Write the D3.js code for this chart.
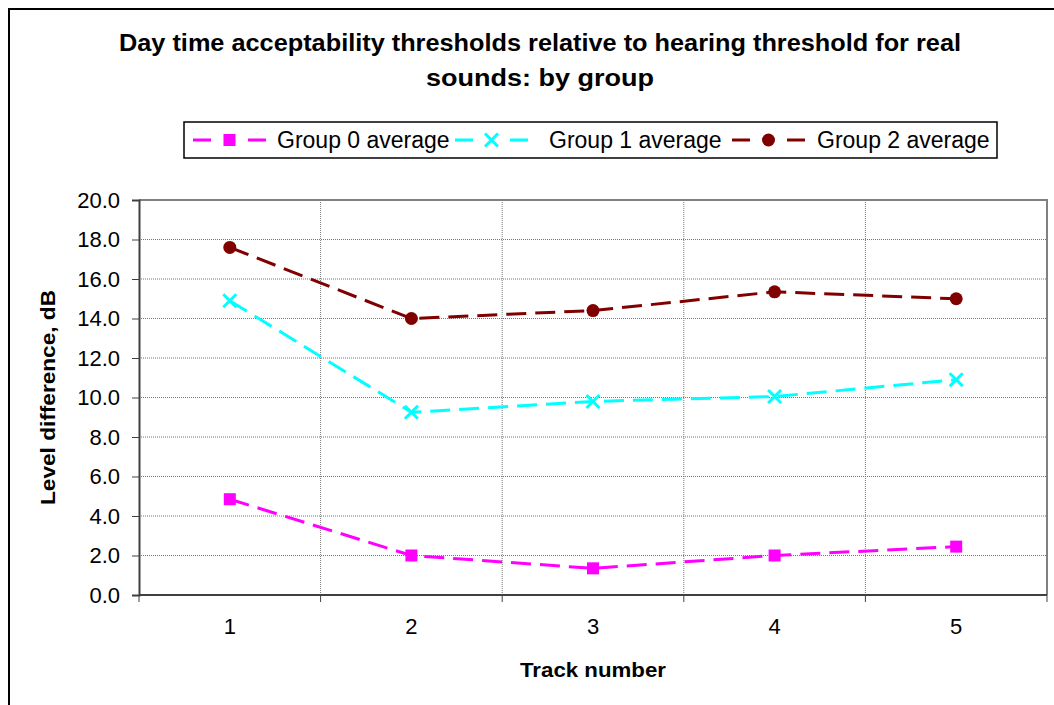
<!DOCTYPE html>
<html><head><meta charset="utf-8">
<script src="https://cdn.jsdelivr.net/npm/d3@7"></script>
<style>body{margin:0;background:#fff;}svg{display:block;font-family:"Liberation Sans",Arial,sans-serif;}</style>
</head><body><svg id="c" width="1054" height="705"></svg>
<script>
const tracks = [1, 2, 3, 4, 5];
const group0 = [4.85, 2.0, 1.35, 2.0, 2.45];
const group1 = [14.9, 9.25, 9.8, 10.05, 10.9];
const group2 = [17.6, 14.0, 14.4, 15.35, 15.0];
const seriesNames = ["Group 0 average", "Group 1 average", "Group 2 average"];
const yTicks = [0, 2, 4, 6, 8, 10, 12, 14, 16, 18, 20];
const titleLines = ["Day time acceptability thresholds relative to hearing threshold for real", "sounds: by group"];

const series = [
  {name: seriesNames[0], values: group0, color: "#ff00ff", marker: "square"},
  {name: seriesNames[1], values: group1, color: "#00ffff", marker: "x"},
  {name: seriesNames[2], values: group2, color: "#800000", marker: "circle"}
];

const svg = d3.select("#c");
// outer border (cut off at right/bottom)
svg.append("path").attr("d","M9,710 L9,9 L1060,9").attr("fill","none").attr("stroke","#000").attr("stroke-width",2);

const L = 139, R = 1047, T = 200, B = 595;
const x = d3.scaleBand().domain(tracks).range([L, R]);
const y = d3.scaleLinear().domain([0, 20]).range([B, T]);

// title
const titleW = [842, 228];
svg.append("g").selectAll("text").data(titleLines).join("text")
  .attr("x", 540).attr("y", (d,i)=>51 + i*35).attr("text-anchor","middle")
  .attr("font-size", 23).attr("font-weight","bold")
  .attr("textLength", (d,i)=>titleW[i]).attr("lengthAdjust","spacingAndGlyphs").text(d=>d);

// gridlines horizontal
svg.append("g").selectAll("line").data(yTicks.slice(1, -1)).join("line")
  .attr("x1", L).attr("x2", R).attr("y1", d=>y(d)).attr("y2", d=>y(d))
  .attr("stroke","#777").attr("stroke-width",1).attr("stroke-dasharray","1,1");
// vertical gridlines at category boundaries
svg.append("g").selectAll("line").data(tracks.slice(1)).join("line")
  .attr("x1", d=>x(d)).attr("x2", d=>x(d)).attr("y1", T).attr("y2", B)
  .attr("stroke","#777").attr("stroke-width",1).attr("stroke-dasharray","1,1");

// plot border (top/right gray)
svg.append("path").attr("d",`M${L},${T} L${R},${T} L${R},${B}`).attr("fill","none").attr("stroke","#808080").attr("stroke-width",2);

// y axis
const yAxis = d3.axisLeft(y).tickValues(yTicks).tickFormat(d3.format(".1f")).tickSize(7).tickPadding(12);
const gy = svg.append("g").attr("transform",`translate(${L},0)`).call(yAxis);
gy.select(".domain").attr("stroke","#404040").attr("stroke-width",2);
gy.selectAll(".tick line").attr("stroke","#404040");
gy.selectAll("text").attr("font-size",22).attr("fill","#000").attr("font-family","Liberation Sans, Arial, sans-serif");

// x axis: labels centered, ticks at boundaries
const xAxis = d3.axisBottom(x).tickSize(0).tickPadding(23);
const gx = svg.append("g").attr("transform",`translate(0,${B})`).call(xAxis);
gx.select(".domain").remove();
gx.selectAll("text").attr("font-size",22).attr("fill","#000").attr("font-family","Liberation Sans, Arial, sans-serif");
const bounds = tracks.map(d=>x(d)).concat([R]);
svg.append("line").attr("x1",L).attr("x2",R).attr("y1",B).attr("y2",B).attr("stroke","#404040").attr("stroke-width",2);
svg.append("g").selectAll("line").data(bounds).join("line")
  .attr("x1",d=>d).attr("x2",d=>d).attr("y1",B).attr("y2",B+7).attr("stroke","#404040").attr("stroke-width",1);

// axis titles
svg.append("text").attr("x",593).attr("y",677).attr("text-anchor","middle").attr("font-size",21).attr("font-weight","bold")
  .attr("textLength",146).attr("lengthAdjust","spacingAndGlyphs").text("Track number");
svg.append("text").attr("transform",`translate(55,${(T+B)/2}) rotate(-90)`).attr("text-anchor","middle").attr("font-size",21).attr("font-weight","bold")
  .attr("textLength",215).attr("lengthAdjust","spacingAndGlyphs").text("Level difference, dB");

function drawMarker(g, type, color, cx, cy) {
  if (type === "square") {
    g.append("rect").attr("x",cx-6).attr("y",cy-6).attr("width",12).attr("height",12).attr("fill",color);
  } else if (type === "x") {
    g.append("path").attr("d",`M${cx-6.5},${cy-6.5}L${cx+6.5},${cy+6.5}M${cx-6.5},${cy+6.5}L${cx+6.5},${cy-6.5}`).attr("stroke",color).attr("stroke-width",3);
  } else {
    g.append("circle").attr("cx",cx).attr("cy",cy).attr("r",6.5).attr("fill",color);
  }
}

const line = d3.line().x((d,i)=>x(tracks[i]) + x.bandwidth()/2).y(d=>y(d));
series.forEach(s=>{
  const g = svg.append("g");
  g.append("path").datum(s.values).attr("d", line).attr("fill","none")
    .attr("stroke", s.color).attr("stroke-width", 3).attr("stroke-dasharray","20,9");
  s.values.forEach((v,i)=>drawMarker(g, s.marker, s.color, x(tracks[i]) + x.bandwidth()/2, y(v)));
});

// legend
svg.append("rect").attr("x",184).attr("y",122).attr("width",813).attr("height",36).attr("fill","#fff").attr("stroke","#000").attr("stroke-width",1.5);
const legX = [193, 455, 732];
const legTextX = [277, 549, 817];
series.forEach((s,i)=>{
  const g = svg.append("g");
  const x0 = legX[i], cy = 140, w = 73;
  g.append("line").attr("x1",x0).attr("x2",x0+18).attr("y1",cy).attr("y2",cy).attr("stroke",s.color).attr("stroke-width",3);
  g.append("line").attr("x1",x0+w-18).attr("x2",x0+w).attr("y1",cy).attr("y2",cy).attr("stroke",s.color).attr("stroke-width",3);
  drawMarker(g, s.marker, s.color, x0+w/2, cy);
  g.append("text").attr("x",legTextX[i]).attr("y",cy+8).attr("font-size",23).text(s.name);
});
</script></body></html>
